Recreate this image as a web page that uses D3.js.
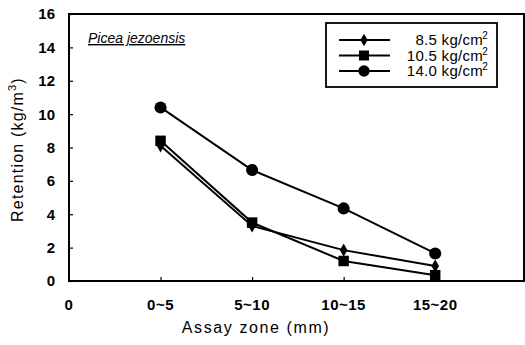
<!DOCTYPE html>
<html>
<head>
<meta charset="utf-8">
<script src="https://cdn.jsdelivr.net/npm/d3@7"></script>
<style>
  body { margin: 0; background: #fff; }
  svg { display: block; font-family: "Liberation Sans", Arial, sans-serif; }
</style>
</head>
<body>
<div id="chart"></div>
<script>
const zones = [`0~5`, `5~10`, `10~15`, `15~20`];
const p85 = [8.1, 3.3, 1.85, 0.9];
const p105 = [8.4, 3.5, 1.2, 0.35];
const p140 = [10.4, 6.65, 4.35, 1.65];
const yTicks = [0, 2, 4, 6, 8, 10, 12, 14, 16];

const series = [
  {label: `8.5 kg/cm`, values: p85, symbol: d3.symbolDiamond, size: 50},
  {label: `10.5 kg/cm`, values: p105, symbol: d3.symbolSquare, size: 110},
  {label: `14.0 kg/cm`, values: p140, symbol: d3.symbolCircle, size: 115}
];

const width = 525, height = 345;
const margin = {top: 14, right: 1, bottom: 64, left: 69};

const svg = d3.select(`#chart`).append(`svg`)
  .attr(`width`, width)
  .attr(`height`, height);

const x = d3.scaleLinear()
  .domain([0, 4.97])
  .range([margin.left, width - margin.right]);

const y = d3.scaleLinear()
  .domain([0, 16])
  .range([height - margin.bottom, margin.top]);

// frame
svg.append(`rect`)
  .attr(`x`, x(0))
  .attr(`y`, y(16))
  .attr(`width`, x(4.97) - x(0))
  .attr(`height`, y(0) - y(16))
  .attr(`fill`, `none`)
  .attr(`stroke`, `#000`)
  .attr(`stroke-width`, 2);

// y axis
const yAxis = svg.append(`g`)
  .attr(`transform`, `translate(${x(0)},0)`)
  .call(d3.axisRight(y).tickValues(yTicks).tickSize(4).tickFormat(``));
yAxis.select(`.domain`).remove();
yAxis.selectAll(`line`).attr(`stroke-width`, 1.2);

svg.append(`g`).selectAll(`text`)
  .data(yTicks)
  .enter().append(`text`)
  .attr(`x`, 55)
  .attr(`y`, d => y(d))
  .attr(`dy`, `0.36em`)
  .attr(`text-anchor`, `end`)
  .attr(`font-size`, 15)
  .attr(`font-weight`, `bold`)
  .text(d => d);

// x axis
const xAxis = svg.append(`g`)
  .attr(`transform`, `translate(0,${y(0)})`)
  .call(d3.axisTop(x).tickValues([1, 2, 3, 4]).tickSize(4).tickFormat(``));
xAxis.select(`.domain`).remove();
xAxis.selectAll(`line`).attr(`stroke-width`, 1.2);

const xLabels = [`0`].concat(zones);
svg.append(`g`).selectAll(`text`)
  .data(xLabels)
  .enter().append(`text`)
  .attr(`x`, (d, i) => x(i))
  .attr(`y`, 310)
  .attr(`text-anchor`, `middle`)
  .attr(`font-size`, 15)
  .attr(`font-weight`, `bold`)
  .attr(`letter-spacing`, 0.5)
  .text(d => d);

svg.append(`text`)
  .attr(`x`, 256)
  .attr(`y`, 333)
  .attr(`text-anchor`, `middle`)
  .attr(`font-size`, 16)
  .attr(`letter-spacing`, 1.6)
  .text(`Assay zone (mm)`);

const yTitle = svg.append(`text`)
  .attr(`transform`, `translate(23,${(y(0) + y(16)) / 2 + 2}) rotate(-90)`)
  .attr(`text-anchor`, `middle`)
  .attr(`font-size`, 16)
  .attr(`letter-spacing`, 1.2);
yTitle.append(`tspan`).text(`Retention (kg/m`);
yTitle.append(`tspan`).attr(`dy`, -7).attr(`font-size`, 11).text(`3`);
yTitle.append(`tspan`).attr(`dy`, 7).text(`)`);

// species name
svg.append(`text`)
  .attr(`x`, 88)
  .attr(`y`, 43)
  .attr(`font-size`, 14)
  .attr(`font-style`, `italic`)
  .attr(`text-decoration`, `underline`)
  .text(`Picea jezoensis`);

// lines
const line = d3.line()
  .x((d, i) => x(i + 1))
  .y(d => y(d));

series.forEach(s => {
  svg.append(`path`)
    .datum(s.values)
    .attr(`d`, line)
    .attr(`fill`, `none`)
    .attr(`stroke`, `#000`)
    .attr(`stroke-width`, 2);

  svg.append(`g`).selectAll(`path`)
    .data(s.values)
    .enter().append(`path`)
    .attr(`transform`, (d, i) => `translate(${x(i + 1)},${y(d)})`)
    .attr(`d`, d3.symbol().type(s.symbol).size(s.size))
    .attr(`fill`, `#000`);
});

// legend
const legend = svg.append(`g`);
legend.append(`rect`)
  .attr(`x`, 326)
  .attr(`y`, 23)
  .attr(`width`, 171)
  .attr(`height`, 64)
  .attr(`fill`, `#fff`)
  .attr(`stroke`, `#000`)
  .attr(`stroke-width`, 1.8);

series.forEach((s, i) => {
  const ly = 40 + i * 15.5;
  legend.append(`line`)
    .attr(`x1`, 339)
    .attr(`x2`, 390)
    .attr(`y1`, ly)
    .attr(`y2`, ly)
    .attr(`stroke`, `#000`)
    .attr(`stroke-width`, 2);
  legend.append(`path`)
    .attr(`transform`, `translate(364,${ly})`)
    .attr(`d`, d3.symbol().type(s.symbol).size(s.size * 0.9))
    .attr(`fill`, `#000`);
  const t = legend.append(`text`)
    .attr(`x`, 488)
    .attr(`y`, ly)
    .attr(`dy`, `0.36em`)
    .attr(`text-anchor`, `end`)
    .attr(`font-size`, 15)
    .attr(`letter-spacing`, 0.3);
  t.append(`tspan`).text(s.label);
  t.append(`tspan`)
    .attr(`dx`, -1)
    .attr(`dy`, -6)
    .attr(`font-size`, 10)
    .text(`2`);
});
</script>
</body>
</html>
